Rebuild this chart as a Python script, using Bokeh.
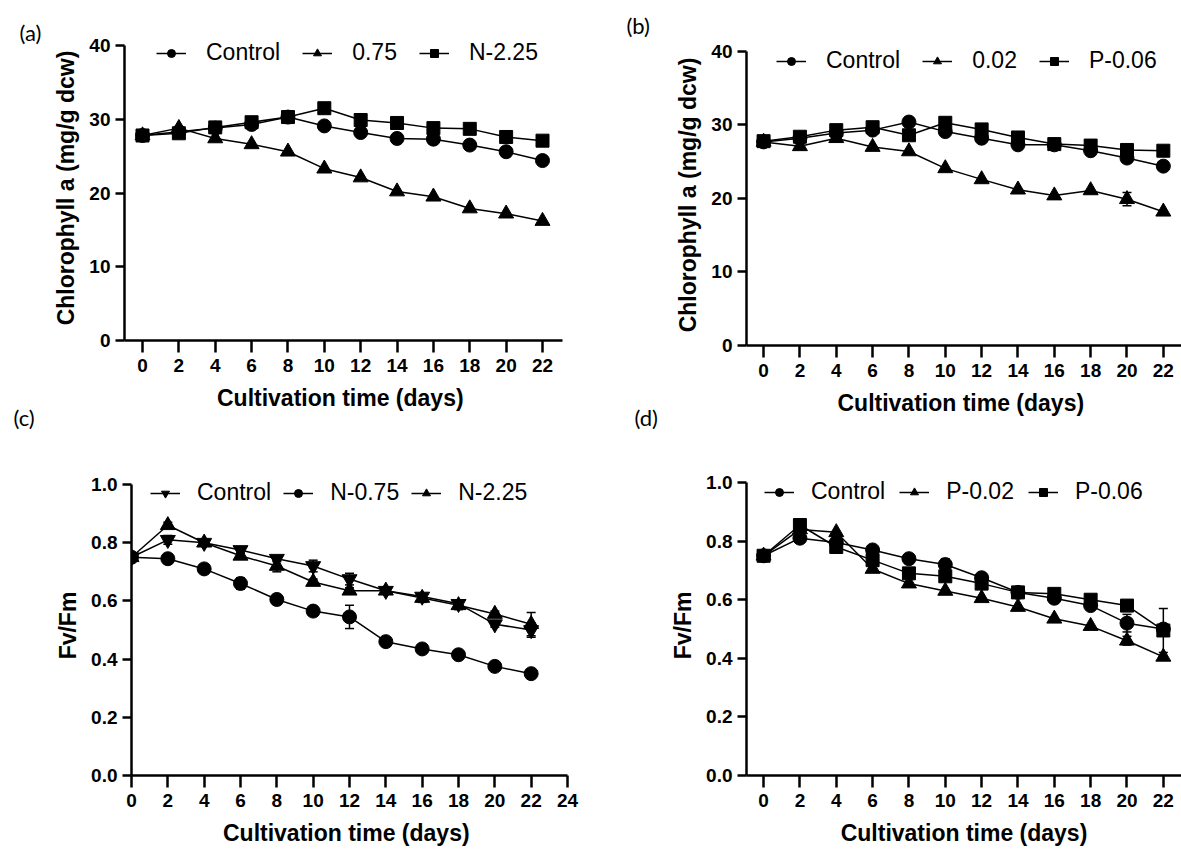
from bokeh.plotting import figure
from bokeh.models import (Range1d, FixedTicker, Legend, LegendItem, Whisker, Label,
                          ColumnDataSource, PrintfTickFormatter, TeeHead)
from bokeh.layouts import column, row
from bokeh.embed import file_html
from bokeh.resources import INLINE

days = [0, 2, 4, 6, 8, 10, 12, 14, 16, 18, 20, 22]

# (a) Chlorophyll a, nitrogen
a_control = [27.8, 28.3, 28.8, 29.3, 30.3, 29.1, 28.2, 27.4, 27.3, 26.5, 25.6, 24.4]
a_n075 = [27.8, 28.8, 27.4, 26.6, 25.6, 23.3, 22.1, 20.2, 19.5, 17.9, 17.2, 16.2]
a_n225 = [27.8, 28.1, 28.9, 29.6, 30.3, 31.5, 29.9, 29.5, 28.8, 28.7, 27.6, 27.1]
a_zero = [0] * 12

# (b) Chlorophyll a, phosphorus
b_control = [27.7, 28.2, 28.9, 29.3, 30.4, 29.1, 28.2, 27.3, 27.3, 26.5, 25.5, 24.4]
b_p002 = [27.7, 27.1, 28.2, 27.0, 26.4, 24.1, 22.6, 21.2, 20.4, 21.1, 19.9, 18.2]
b_p002_err = [0, 0, 0, 0, 0, 0, 0, 0, 0, 0, 0.9, 0]
b_p006 = [27.8, 28.4, 29.3, 29.7, 28.6, 30.3, 29.4, 28.3, 27.4, 27.2, 26.6, 26.5]

# (c) Fv/Fm, nitrogen
c_control = [0.75, 0.81, 0.80, 0.775, 0.745, 0.72, 0.675, 0.635, 0.615, 0.59, 0.52, 0.50]
c_control_err = [0, 0.015, 0.01, 0.01, 0.01, 0.02, 0.02, 0.01, 0.01, 0.01, 0.01, 0.025]
c_n075 = [0.75, 0.745, 0.71, 0.66, 0.605, 0.565, 0.545, 0.46, 0.435, 0.415, 0.375, 0.35]
c_n075_err = [0, 0, 0, 0.02, 0, 0.01, 0.04, 0.015, 0, 0, 0, 0]
c_n225 = [0.75, 0.86, 0.80, 0.755, 0.72, 0.665, 0.635, 0.635, 0.61, 0.585, 0.555, 0.52]
c_n225_err = [0, 0.01, 0, 0.01, 0.02, 0.01, 0.01, 0.01, 0.015, 0.015, 0.01, 0.04]

# (d) Fv/Fm, phosphorus
d_control = [0.75, 0.81, 0.795, 0.77, 0.74, 0.72, 0.675, 0.625, 0.605, 0.58, 0.52, 0.50]
d_control_err = [0, 0, 0, 0, 0, 0.02, 0, 0, 0, 0, 0.03, 0]
d_p002 = [0.75, 0.84, 0.83, 0.705, 0.655, 0.63, 0.605, 0.575, 0.535, 0.51, 0.46, 0.405]
d_p002_err = [0, 0, 0, 0, 0, 0, 0, 0, 0, 0, 0.015, 0]
d_p006 = [0.75, 0.855, 0.78, 0.735, 0.69, 0.68, 0.655, 0.625, 0.62, 0.60, 0.58, 0.495]
d_p006_err = [0, 0, 0, 0, 0, 0, 0, 0, 0, 0, 0, 0.075]

ticks_a = [0, 2, 4, 6, 8, 10, 12, 14, 16, 18, 20, 22]
ticks_c = [0, 2, 4, 6, 8, 10, 12, 14, 16, 18, 20, 22, 24]
yticks_chl = [0, 10, 20, 30, 40]
yticks_fv = [0.0, 0.2, 0.4, 0.6, 0.8, 1.0]

FONT = "Liberation Sans"
MSIZE = {"circle": 14, "square": 13, "triangle": 15, "inverted_triangle": 15}


def panel(width, height, borders, xr, yr, ybounds, xticks, yticks, yfmt, ylabel,
          series, leg_loc, leg_spacing, leg_standoff, xlabel="Cultivation time  (days)"):
    left, right, top, bottom = borders
    p = figure(width=width, height=height, output_backend="svg", toolbar_location=None,
               title=None, x_range=Range1d(*xr), y_range=Range1d(*yr),
               min_border_left=left, min_border_right=right,
               min_border_top=top, min_border_bottom=bottom)
    p.outline_line_color = None
    p.xgrid.visible = False
    p.ygrid.visible = False
    p.background_fill_color = "white"
    p.border_fill_color = "white"

    items = []
    for name, vals, marker, err in series:
        src = ColumnDataSource(dict(x=days, y=vals))
        ln = p.line("x", "y", source=src, line_color="black", line_width=1.5)
        idx = [i for i, e in enumerate(err) if e > 0]
        if idx:
            wsrc = ColumnDataSource(dict(
                base=[days[i] for i in idx],
                upper=[vals[i] + err[i] for i in idx],
                lower=[vals[i] - err[i] for i in idx]))
            w = Whisker(source=wsrc, base="base", upper="upper", lower="lower",
                        line_color="black", line_width=1.5,
                        upper_head=TeeHead(size=9, line_width=1.5, line_color="black"),
                        lower_head=TeeHead(size=9, line_width=1.5, line_color="black"))
            p.add_layout(w)
        sc = p.scatter("x", "y", source=src, marker=marker, size=MSIZE[marker],
                       fill_color="black", line_color="black")
        items.append(LegendItem(label=name, renderers=[ln, sc]))

    leg = Legend(items=items, location=leg_loc, orientation="horizontal",
                 padding=0, margin=0, spacing=leg_spacing, label_standoff=leg_standoff,
                 glyph_width=30, glyph_height=20, label_height=20,
                 border_line_alpha=0, background_fill_alpha=0,
                 label_text_font=FONT, label_text_font_size="23px",
                 label_text_color="black")
    p.add_layout(leg)

    p.xaxis.ticker = FixedTicker(ticks=xticks)
    p.yaxis.ticker = FixedTicker(ticks=yticks)
    p.yaxis.bounds = ybounds
    if yfmt:
        p.yaxis.formatter = PrintfTickFormatter(format=yfmt)
    p.xaxis.axis_label = xlabel
    p.yaxis.axis_label = ylabel
    for ax in (p.xaxis[0], p.yaxis[0]):
        ax.axis_line_width = 2.5
        ax.axis_line_color = "black"
        ax.major_tick_line_width = 2.5
        ax.major_tick_line_color = "black"
        ax.minor_tick_line_color = None
        ax.major_tick_in = 0
        ax.major_label_text_font = FONT
        ax.major_label_text_font_style = "bold"
        ax.major_label_text_font_size = "19px"
        ax.major_label_text_color = "black"
        ax.axis_label_text_font = FONT
        ax.axis_label_text_font_style = "bold"
        ax.axis_label_text_font_size = "23px"
        ax.axis_label_text_color = "black"
    p.xaxis.major_tick_out = 12
    p.yaxis.major_tick_out = 9
    p.xaxis.major_label_standoff = 6
    p.yaxis.major_label_standoff = 5
    p.xaxis.axis_label_standoff = 10
    p.yaxis.axis_label_standoff = 7
    return p


def strip(width, tags):
    s = figure(width=width, height=852, output_backend="svg", toolbar_location=None,
               title=None, x_range=Range1d(0, width), y_range=Range1d(0, 852),
               x_axis_location=None, y_axis_location=None,
               min_border_left=0, min_border_right=0, min_border_top=0, min_border_bottom=0)
    s.outline_line_color = None
    s.xgrid.visible = False
    s.ygrid.visible = False
    for txt, x, y in tags:
        s.add_layout(Label(x=x, y=y, x_units="screen", y_units="screen", text=txt,
                           text_font="Lato", text_font_size="22px",
                           text_baseline="middle", text_align="left", text_color="black"))
    return s


TOP_H = 430
BOT_H = 852 - TOP_H
LW = 44     # left label strip width
MW = 76     # middle label strip width

pa = panel(590 - LW, TOP_H, (124 - LW, 28, 35, TOP_H - 340), (-0.99, 23.1), (0, 41.36), (0, 40),
           ticks_a, yticks_chl, None, "Chlorophyll a (mg/g dcw)",
           [("Control", a_control, "circle", a_zero),
            ("0.75", a_n075, "triangle", a_zero),
            ("N-2.25", a_n225, "square", a_zero)],
           (32, 274), 22, 20)

pb = panel(591 - MW, TOP_H, (746 - 590 - MW, 0, 44, TOP_H - 345), (-0.94, 23.0), (0, 40.95), (0, 40),
           ticks_a, yticks_chl, None, "Chlorophyll a (mg/g dcw)",
           [("Control", b_control, "circle", a_zero),
            ("0.02", b_p002, "triangle", b_p002_err),
            ("P-0.06", b_p006, "square", a_zero)],
           (30, 271), 22, 20)

pc = panel(590 - LW, BOT_H, (131 - LW, 23, 475 - TOP_H, 77), (0, 24), (0, 1.031), (0, 1),
           ticks_c, yticks_fv, "%.1f", "Fv/Fm",
           [("Control", c_control, "inverted_triangle", c_control_err),
            ("N-0.75", c_n075, "circle", c_n075_err),
            ("N-2.25", c_n225, "triangle", c_n225_err)],
           (19, 269), 12, 17)

pd_ = panel(591 - MW, BOT_H, (746 - 590 - MW, 0, 475 - TOP_H, 77), (-0.94, 23.0), (0, 1.024), (0, 1),
            ticks_a, yticks_fv, "%.1f", "Fv/Fm",
            [("Control", d_control, "circle", d_control_err),
             ("P-0.02", d_p002, "triangle", d_p002_err),
             ("P-0.06", d_p006, "square", d_p006_err)],
            (18, 270), 14, 17, xlabel="Cultivation time (days)")

sl = strip(LW, [("(a)", 19, 852 - 32), ("(c)", 13, 852 - 417)])
sm = strip(MW, [("(b)", 36, 852 - 25), ("(d)", 44, 852 - 417)])

# each figure wrapped in its own row so that frames are not aligned across panels
left_col = column(row(pa, spacing=0), row(pc, spacing=0), spacing=0)
right_col = column(row(pb, spacing=0), row(pd_, spacing=0), spacing=0)
layout = row(sl, left_col, sm, right_col, spacing=0)
open("out.html", "w").write(file_html(layout, INLINE))
